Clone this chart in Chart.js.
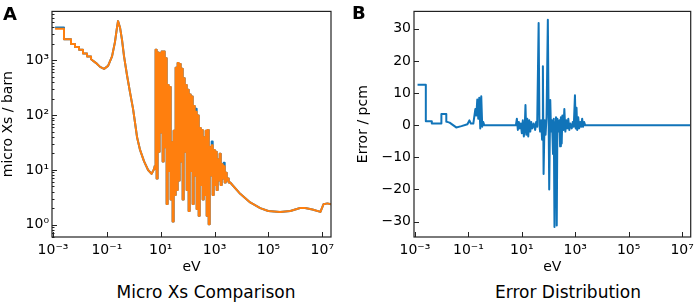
<!DOCTYPE html>
<html>
<head>
<meta charset="utf-8">
<script src="https://cdn.jsdelivr.net/npm/chart.js@4.4.0/dist/chart.umd.min.js"></script>
<style>
  body { margin: 0; background: #fff; }
  #wrap { position: relative; width: 699px; height: 304px; font-family: "DejaVu Sans", sans-serif; color: #000; }
  .box { position: absolute; top: 0; height: 280px; }
  .tag { position: absolute; font-weight: bold; font-size: 18px; line-height: 18px; }
  .cap { position: absolute; top: 284px; width: 240px; text-align: center; font-size: 17px; line-height: 17px; }
</style>
</head>
<body>
<div id="wrap">
  <div class="box" style="left:0;width:345px"><canvas id="chartA"></canvas></div>
  <div class="box" style="left:350px;width:349px"><canvas id="chartB"></canvas></div>
  <div class="tag" style="left:3px;top:5px">A</div>
  <div class="tag" style="left:352px;top:4px">B</div>
  <div class="cap" style="left:86px">Micro Xs Comparison</div>
  <div class="cap" style="left:448px">Error Distribution</div>
</div>
<script>
// energies (eV) for panel A
const eA = [1.2e-3, 2.56e-3, 2.56e-3, 4.67e-3, 4.67e-3, 6.57e-3, 6.57e-3, 9.27e-3, 9.27e-3,
  0.013, 0.013, 0.0184, 0.0184, 0.0259, 0.0259, 0.040, 0.056, 0.079, 0.111, 0.156, 0.2, 0.237,
  0.26, 0.31, 0.367, 0.435, 0.563, 0.728, 0.94, 1.12, 1.33, 1.71, 2.41, 3.40, 4.59, 5.69,
  6.2, 6.75, 7.35, 8.0, 8.7, 9.5, 10.4, 11.3, 12.3, 13.4, 14.6, 15.9, 17.3, 18.8, 20.5, 22.4,
  24.4, 26.5, 28.9, 31.5, 34.3, 37.4, 40.7, 44.4, 48.3, 52.6, 57.3, 62.5, 68, 74, 81, 88, 96,
  104, 114, 124, 135, 147, 160, 175, 190, 207, 225, 246, 268, 292, 318, 346, 377, 411, 448,
  488, 531, 578, 630, 686, 748, 815, 887, 966, 1052, 1146, 1250, 1360, 1483, 1615, 1760, 1917,
  2088, 2275, 2478, 2700, 2940, 3205, 3490,
  3800, 8950, 2.1e4, 4.95e4, 9.8e4, 2.7e5, 6.5e5, 1.5e6, 2.3e6, 4.3e6, 8.5e6, 1.1e7, 1.55e7, 2.1e7];

// computed micro xs (barn), orange
const xsCalc = [3750, 3750, 2415, 2415, 1977, 1977, 1750, 1750, 1553, 1553, 1324, 1324, 1174,
  1174, 1041, 887, 756, 697, 787, 1175, 2140, 3900, 5160, 3900, 2320, 1175, 527, 257, 130, 71,
  39, 23.2, 14.3, 10, 8.5, 10.4,
  11.7, 1550, 7.0, 1377, 21.4, 1324, 48, 1435, 14.3, 1435, 26, 1083, 2.4, 353, 9.6, 326, 2.9,
  32, 1.15, 52, 3.5, 726, 4.3, 887, 6.4, 851, 14.3, 697, 2.9, 468, 21.4, 353, 4.3, 289, 1.79,
  237, 9.6, 218, 2.4, 146, 7.9, 115, 1.94, 98, 1.46, 58, 5.3, 53.7, 2.9, 39, 3.5, 52, 1.46,
  53.7, 1.02, 26, 7.9, 28.3, 3.5, 23.2, 5.3, 21.4, 4.3, 15.5, 6.4, 19.8, 5.3, 12.7, 7.0, 11.7,
  5.9, 8.9, 6.4, 7.0, 5.9,
  5.9, 3.67, 2.56, 2.02, 1.79, 1.72, 1.79, 2.02, 2.02, 1.9, 1.72, 2.37, 2.46, 2.37];

// reference xs (blue) differs from the computed one only at these points [index, value]
const refChanges = [[0, 3950], [1, 3950], [77, 130], [93, 33], [105, 13.5]];

// resolved resonance range (indices into eA), drawn as a histogram
const resFrom = 35, resTo = 111;

// energies and error (pcm) for panel B
const eB = [1.25e-3, 2.55e-3, 2.55e-3, 4.27e-3, 4.27e-3, 9.75e-3, 9.75e-3, 0.0149, 0.0149,
  0.0198, 0.035, 0.055, 0.092, 0.109, 0.124, 0.153, 0.182, 0.198, 0.215, 0.234, 0.255, 0.278,
  0.303, 0.33, 0.36, 0.392, 6.0,
  6.53, 7.11, 7.74, 8.43, 9.18, 10.0, 10.9, 11.9, 12.9, 13.7, 14.7, 16.0, 17.4, 19.0, 20.7,
  22.5, 24.5, 27.8, 31.6, 34.4, 37.5, 42.6, 45.6, 48.4, 52.7, 57.4, 61.5, 65.3, 71.1, 77.4,
  84.3, 94.2, 106, 116, 124, 135, 147, 157, 167, 177, 190, 203, 215, 235, 256, 271, 290, 311,
  330, 359, 391, 426, 464, 505, 550, 599, 652, 741, 807, 879, 975, 1044, 1117, 1186, 1291,
  1406, 1531, 1667, 1815, 1977, 2153, 2344, 2.0e7];

const errB = [12.6, 12.6, 1.2, 1.2, 0.5, 0.5, 3.5, 3.5, 1.1, 0.8, -0.7, -0.3, 0.3, 1.5, 0.5,
  0.5, 5, 3, 8, 2, 8.5, -1, 9, -0.5, 1, 0, 0,
  2, -1.5, 1, -1, 0.5, -2.5, 1.5, -3.5, -0.5, 6.3, -3, 2, -3.5, 1.5, -2, 1, -1, 0.5, -1.5, 1,
  -0.5, 31.8, 0, -2, 1.5, -4.5, 18.3, -15.2, 1.5, -3, 2.5, 32.8, -20, 7.8, -2, 1.5, -9, 2,
  -31.7, 1, 2.5, -31.2, 2, -2, 1.5, -6.6, 2.5, -5.7, 3, -1.5, 5, -2, 1.5, -1, 2, -1.5, 0.5, -1,
  1, -0.5, 9.3, -1, 5.4, -1.5, 2.5, -1, 1, -0.5, 2, -0.5, 1, 0, 0];

// ticks
const xTickVals = [1e-3, 1e-1, 1e1, 1e3, 1e5, 1e7];
const xTickLabels = ['10⁻³', '10⁻¹', '10¹', '10³', '10⁵', '10⁷'];
const yTickValsA = [1, 10, 100, 1000];
const yTickLabelsA = ['10⁰', '10¹', '10²', '10³'];
const yTickValsB = [-30, -20, -10, 0, 10, 20, 30];
const yTickLabelsB = ['−30', '−20', '−10', '0', '10', '20', '30'];

const BLUE = '#1174b9';
const ORANGE = '#ff7f0e';
const X_MIN = 9.2e-4, X_MAX = 2.1e7;

Chart.defaults.font.family = '"DejaVu Sans", sans-serif';
Chart.defaults.font.size = 14;
Chart.defaults.color = '#000';

const xsRef = xsCalc.slice();
refChanges.forEach(([i, v]) => { xsRef[i] = v; });

function toPoints(xs, ys, from, to) {
  return xs.slice(from, to).map((x, i) => ({ x: x, y: ys[from + i] }));
}

// one curve = smooth part + histogram part + smooth tail, same colour
function curve(ys, color, order) {
  const n = eA.length;
  const base = { borderColor: color, borderWidth: 2, order: order };
  return [
    Object.assign({ data: toPoints(eA, ys, 0, resFrom + 2) }, base),
    Object.assign({ data: toPoints(eA, ys, resFrom, resTo + 1), stepped: 'middle' }, base),
    Object.assign({ data: toPoints(eA, ys, resTo - 1, n) }, base)
  ];
}

// inward tick marks and box frame, like the matplotlib figure
const frameTicks = {
  id: 'frameTicks',
  afterDraw(chart) {
    const { ctx, chartArea: a, scales } = chart;
    ctx.save();
    ctx.strokeStyle = '#222';
    ctx.lineWidth = 1;
    scales.x.ticks.forEach(t => {
      const px = Math.round(scales.x.getPixelForValue(t.value)) + 0.5;
      const len = t.label ? 5 : 2.5;
      ctx.beginPath();
      ctx.moveTo(px, a.bottom);
      ctx.lineTo(px, a.bottom - len);
      ctx.stroke();
    });
    scales.y.ticks.forEach(t => {
      const py = Math.round(scales.y.getPixelForValue(t.value)) + 0.5;
      const len = t.label ? 5 : 2.5;
      ctx.beginPath();
      ctx.moveTo(a.left, py);
      ctx.lineTo(a.left + len, py);
      ctx.stroke();
    });
    ctx.lineWidth = 1.2;
    ctx.strokeRect(a.left, a.top, a.right - a.left, a.bottom - a.top);
    ctx.restore();
  }
};

function xAxis() {
  return {
    type: 'logarithmic',
    min: X_MIN,
    max: X_MAX,
    grid: { display: false, drawTicks: false },
    border: { display: false },
    afterBuildTicks: s => { s.ticks = xTickVals.map(v => ({ value: v })); },
    afterFit: s => { s.height = 43; },
    ticks: { autoSkip: false, maxRotation: 0, padding: 5, callback: (v, i) => xTickLabels[i] },
    title: { display: true, text: 'eV', padding: { top: 0, bottom: 4 } }
  };
}

function baseOptions(scales, pad) {
  return {
    responsive: true,
    maintainAspectRatio: false,
    animation: false,
    layout: { padding: pad },
    elements: {
      point: { radius: 0 },
      line: { tension: 0, borderJoinStyle: 'round', fill: false }
    },
    plugins: { legend: { display: false }, tooltip: { enabled: false } },
    scales: scales
  };
}

// panel A: micro xs comparison
new Chart(document.getElementById('chartA'), {
  type: 'line',
  data: {
    datasets: curve(xsCalc, ORANGE, 1).concat(curve(xsRef, BLUE, 2))
  },
  options: baseOptions({
    x: xAxis(),
    y: {
      type: 'logarithmic',
      min: 0.643,
      max: 7760,
      grid: { display: false, drawTicks: false },
      border: { display: false },
      afterBuildTicks: s => {
        const t = [];
        [0.1, 1, 10, 100, 1000].forEach(d => {
          for (let k = 1; k < 10; k++) {
            const v = k * d;
            if (v >= s.min && v <= s.max) t.push({ value: v });
          }
        });
        s.ticks = t;
      },
      afterFit: s => { s.width = 52; },
      ticks: {
        autoSkip: false,
        padding: 3,
        callback: v => {
          const i = yTickValsA.indexOf(v);
          return i >= 0 ? yTickLabelsA[i] : '';
        }
      },
      title: { display: true, text: 'micro Xs / barn', padding: { top: 0, bottom: 0 } }
    }
  }, { left: 0, top: 3, right: 14, bottom: 0 }),
  plugins: [frameTicks]
});

// panel B: error distribution
new Chart(document.getElementById('chartB'), {
  type: 'line',
  data: {
    datasets: [
      { label: 'error', data: toPoints(eB, errB, 0, eB.length), borderColor: BLUE, borderWidth: 2 }
    ]
  },
  options: baseOptions({
    x: xAxis(),
    y: {
      type: 'linear',
      min: -34.8,
      max: 35.4,
      grid: { display: false, drawTicks: false },
      border: { display: false },
      afterBuildTicks: s => { s.ticks = yTickValsB.map(v => ({ value: v })); },
      afterFit: s => { s.width = 64; },
      ticks: { autoSkip: false, padding: 3, callback: (v, i) => yTickLabelsB[i] },
      title: { display: true, text: 'Error / pcm', padding: { top: 5, bottom: 0 } }
    }
  }, { left: 0, top: 3, right: 6, bottom: 0 }),
  plugins: [frameTicks]
});
</script>
</body>
</html>
